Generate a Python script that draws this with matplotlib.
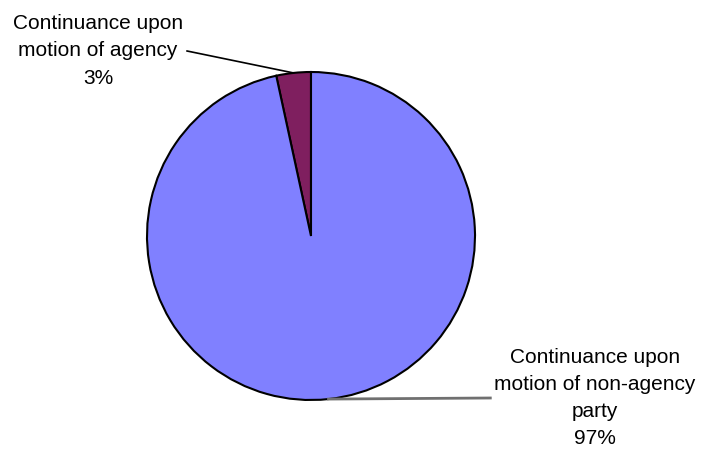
import numpy as np
import matplotlib
matplotlib.use("Agg")
import matplotlib.pyplot as plt

# slice data (share of continuances, in percent)
labels = ["Continuance upon\nmotion of agency", "Continuance upon\nmotion of non-agency\nparty"]
values = [3.4, 96.6]
colors = ["#7F1F5F", "#8080FF"]

# label text positions in pixel space (x, y from top)
label_pos = [(98, 51), (595, 398)]

W, H = 703, 453
plt.rcParams['font.family'] = ['Liberation Sans', 'DejaVu Sans']

fig = plt.figure(figsize=(W / 100, H / 100), dpi=100)
ax = fig.add_axes([0, 0, 1, 1])

center = (311, H - 236)
radius = 164
wedges, _ = ax.pie(values, colors=colors, startangle=90, counterclock=True,
                   center=center, radius=radius, frame=True,
                   wedgeprops=dict(edgecolor='black', linewidth=1.5))
ax.set_xlim(0, W)
ax.set_ylim(0, H)
ax.set_aspect('equal')
ax.axis('off')

total = sum(values)
for i, w in enumerate(wedges):
    # leader line starts at the middle of the wedge's outer edge
    mid = np.deg2rad((w.theta1 + w.theta2) / 2)
    px = center[0] + radius * np.cos(mid)
    py = center[1] + radius * np.sin(mid)
    tx, ty = label_pos[i]
    pct = values[i] / total * 100
    txt = f"{labels[i]}\n{pct:.0f}%"
    t = ax.text(tx, H - ty, txt, ha='center', va='center', fontsize=15,
                linespacing=1.55, multialignment='center')
    fig.canvas.draw()
    bb = t.get_window_extent().transformed(ax.transData.inverted())
    if tx < center[0]:
        ax.plot([px, bb.x1 + 4], [py, H - ty], color='black', linewidth=1.2)
    else:
        ax.plot([px, bb.x0 - 4], [py, H - ty], color='#707070', linewidth=2)

fig.savefig("out.png", dpi=100)
